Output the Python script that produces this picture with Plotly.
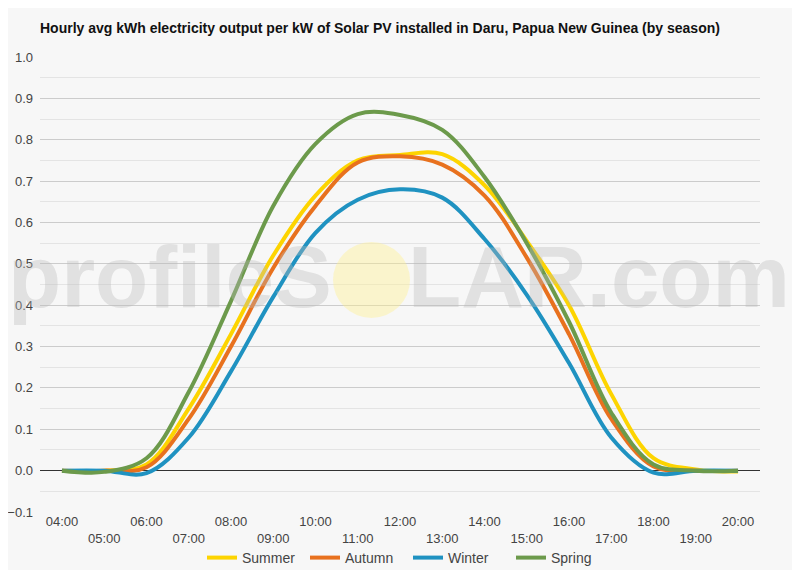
import plotly.graph_objects as go

hours = list(range(4, 21))
hour_labels = [f"{h:02d}:00" if h % 2 == 0 else f"<br>{h:02d}:00" for h in hours]

summer = [0.0, 0.0, 0.015, 0.15, 0.33, 0.52, 0.665, 0.75, 0.763, 0.765, 0.69, 0.555, 0.40, 0.185, 0.03, 0.003, -0.002]
autumn = [0.0, 0.0, 0.008, 0.125, 0.30, 0.49, 0.64, 0.745, 0.76, 0.74, 0.665, 0.515, 0.33, 0.125, 0.01, 0.0, 0.0]
winter = [0.0, 0.0, -0.006, 0.08, 0.24, 0.42, 0.575, 0.655, 0.68, 0.66, 0.56, 0.425, 0.26, 0.08, -0.005, 0.0, 0.0]
spring = [0.0, -0.003, 0.03, 0.19, 0.41, 0.64, 0.79, 0.862, 0.86, 0.824, 0.71, 0.55, 0.36, 0.14, 0.015, 0.0, 0.0]

series = [
    ("Summer", summer, "#fdd400"),
    ("Autumn", autumn, "#e8711e"),
    ("Winter", winter, "#1f92c1"),
    ("Spring", spring, "#6c9a4b"),
]

# page has an 8px body margin, so figure coords = page coords - 8
W, H = 792, 562
L, R, T, B = 32, 752, 49, 504  # plot area in figure px


def px(x):
    return (x - L) / (R - L)


def py(y):
    return (B - y) / (B - T)


fig = go.Figure()
for name, vals, col in series:
    fig.add_trace(go.Scatter(
        x=hours, y=vals, name=name, mode="lines",
        line=dict(color=col, width=4, shape="spline", smoothing=1.0),
    ))

# watermark
wm = dict(size=87, color="rgba(185,185,185,0.36)", family="Liberation Sans, Arial", weight="bold")
fig.add_annotation(text="profileS", xref="paper", yref="paper", x=px(326), y=py(268),
                   xanchor="right", yanchor="middle", showarrow=False, font=wm)
fig.add_annotation(text="LAR.com", xref="paper", yref="paper", x=px(398), y=py(268),
                   xanchor="left", yanchor="middle", showarrow=False, font=wm)
fig.add_shape(type="circle", xref="paper", yref="paper",
              x0=px(325), x1=px(402), y0=py(310), y1=py(234),
              fillcolor="rgba(255,240,140,0.4)", line=dict(width=0), layer="above")

fig.update_layout(
    width=W, height=H,
    margin=dict(l=L, r=W - R, t=T, b=H - B, autoexpand=False),
    paper_bgcolor="#f7f7f7", plot_bgcolor="#f7f7f7",
    font=dict(family="Liberation Sans, Arial", size=13, color="#444"),
    title=dict(text="<b>Hourly avg kWh electricity output per kW of Solar PV installed in Daru, Papua New Guinea (by season)</b>",
               x=L / W, xanchor="left", y=1 - 20 / H, yanchor="middle",
               font=dict(size=14, color="#111")),
    showlegend=True,
    legend=dict(orientation="h", x=px(400), xanchor="center", y=py(534), yanchor="top",
                font=dict(size=14, color="#444"), bgcolor="rgba(0,0,0,0)", itemwidth=30,
                entrywidth=58, entrywidthmode="pixels"),
)
fig.update_xaxes(range=[3.48, 20.52], tickmode="array", tickvals=hours, ticktext=hour_labels,
                 showgrid=False, zeroline=False, showline=False, ticks="", fixedrange=True,
                 tickfont=dict(size=13, color="#444"))
fig.update_yaxes(range=[-0.1, 1.0], dtick=0.1, tick0=0, tickformat=".1f",
                 showgrid=True, gridcolor="#cccccc", gridwidth=1,
                 minor=dict(dtick=0.05, showgrid=True, gridcolor="#e4e4e4"),
                 zeroline=True, zerolinecolor="#333", zerolinewidth=1,
                 ticks="", ticklabelstandoff=6, tickfont=dict(size=13, color="#444"), fixedrange=True)

fig.write_html("out.html")
